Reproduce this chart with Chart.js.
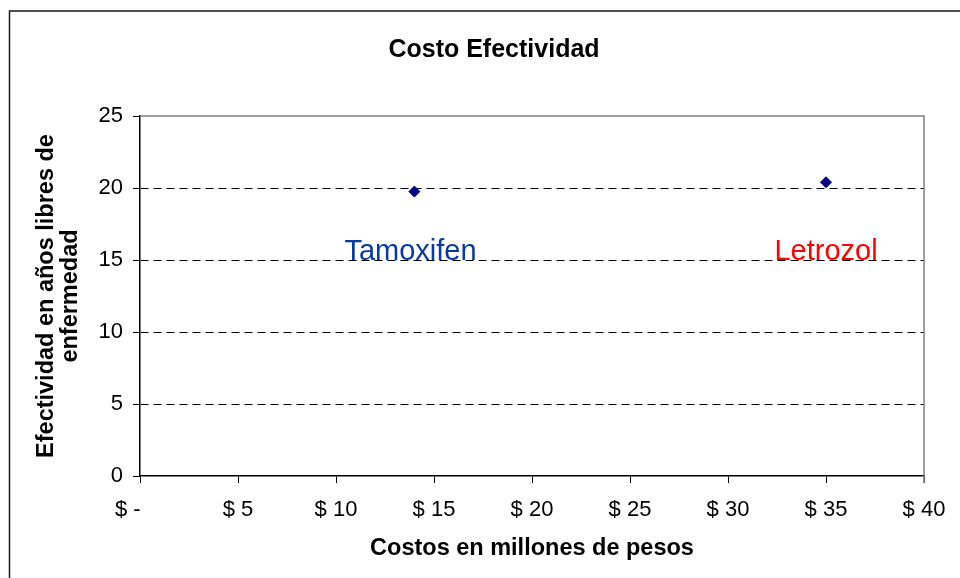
<!DOCTYPE html>
<html>
<head>
<meta charset="utf-8">
<title>Costo Efectividad</title>
<script src="https://cdn.jsdelivr.net/npm/chart.js@4"></script>
<style>
  html, body { margin: 0; padding: 0; background: #ffffff; }
  #wrap { width: 960px; height: 578px; position: relative; }
</style>
</head>
<body>
<div id="wrap"><canvas id="chart" width="960" height="578"></canvas></div>
<script>
// Treatments compared: cost (millions of pesos) vs disease-free years
const treatments = ['Tamoxifen', 'Letrozol'];
const costs = [14, 35];
const effectiveness = [19.75, 20.4];
const labelColors = ['#0a3a9c', '#ff0000'];
// anchor of each treatment name (cost, years at text baseline)
const labelCost = [13.8, 35];
const labelYears = [15, 15];

const xTicks = [0, 5, 10, 15, 20, 25, 30, 35, 40];
const yTicks = [0, 5, 10, 15, 20, 25];

const FONT = '"Liberation Sans", Arial, Helvetica, sans-serif';

function money(v) {
  return v === 0 ? '$ -    ' : '$ ' + v;
}

const decorations = {
  id: 'decorations',
  beforeDraw(chart) {
    const ctx = chart.ctx;
    ctx.save();
    ctx.fillStyle = '#ffffff';
    ctx.fillRect(0, 0, chart.width, chart.height);
    // outer frame
    ctx.strokeStyle = '#1a1a1a';
    ctx.lineWidth = 1.5;
    ctx.beginPath();
    ctx.moveTo(9.5, chart.height);
    ctx.lineTo(9.5, 11);
    ctx.lineTo(chart.width, 11);
    ctx.stroke();
    // title
    ctx.fillStyle = '#000000';
    ctx.font = 'bold 25px ' + FONT;
    ctx.textAlign = 'center';
    ctx.textBaseline = 'alphabetic';
    ctx.fillText('Costo Efectividad', 494, 56.5);
    ctx.restore();
  },
  afterDatasetsDraw(chart) {
    const ctx = chart.ctx;
    const a = chart.chartArea;
    const xs = chart.scales.x, ys = chart.scales.y;
    ctx.save();
    // plot area top and right edges
    ctx.strokeStyle = '#808080';
    ctx.lineWidth = 1.5;
    ctx.beginPath();
    ctx.moveTo(a.left, a.top);
    ctx.lineTo(a.right, a.top);
    ctx.lineTo(a.right, a.bottom + 7);
    ctx.stroke();
    // treatment names
    ctx.font = '29px ' + FONT;
    ctx.textAlign = 'center';
    ctx.textBaseline = 'alphabetic';
    treatments.forEach((name, i) => {
      ctx.fillStyle = labelColors[i];
      ctx.fillText(name, xs.getPixelForValue(labelCost[i]), ys.getPixelForValue(labelYears[i]));
    });
    ctx.restore();
  }
};

new Chart(document.getElementById('chart'), {
  type: 'scatter',
  data: {
    datasets: [{
      label: 'Costo Efectividad',
      data: costs.map((c, i) => ({ x: c, y: effectiveness[i] })),
      pointStyle: 'rectRot',
      pointRadius: 5.5,
      backgroundColor: '#000080',
      borderColor: '#000080',
      borderWidth: 1
    }]
  },
  options: {
    responsive: false,
    animation: false,
    layout: { padding: { left: 0, right: 36, top: 116, bottom: 0 } },
    plugins: {
      legend: { display: false },
      tooltip: { enabled: false },
      title: { display: false }
    },
    scales: {
      x: {
        type: 'linear',
        min: 0,
        max: 40,
        afterFit(scale) { scale.height = 102; },
        afterBuildTicks(scale) { scale.ticks = xTicks.map(v => ({ value: v })); },
        ticks: {
          autoSkip: false,
          maxRotation: 0,
          padding: 14,
          color: '#000000',
          font: { family: FONT, size: 22 },
          callback: v => money(v)
        },
        grid: {
          drawOnChartArea: false,
          drawTicks: true,
          tickLength: 7,
          tickColor: '#000000',
          tickWidth: 1
        },
        border: { display: true, color: '#000000', width: 1.5 },
        title: {
          display: true,
          text: 'Costos en millones de pesos',
          color: '#000000',
          font: { family: FONT, size: 23.5, weight: 'bold', lineHeight: '24px' },
          padding: { top: 0, bottom: 17 }
        }
      },
      y: {
        type: 'linear',
        min: 0,
        max: 25,
        afterFit(scale) { scale.width = 140; },
        afterBuildTicks(scale) { scale.ticks = yTicks.map(v => ({ value: v })); },
        ticks: {
          autoSkip: false,
          padding: 10,
          color: '#000000',
          font: { family: FONT, size: 22 },
          callback: v => String(v)
        },
        grid: {
          drawOnChartArea: true,
          drawTicks: true,
          tickLength: 7,
          tickColor: '#000000',
          tickWidth: 1,
          lineWidth: 1,
          color: ctx => (ctx.tick && (ctx.tick.value === 0 || ctx.tick.value === 25)) ? 'rgba(0,0,0,0)' : '#000000',
          borderDash: [8, 5]
        },
        border: { display: true, color: '#000000', width: 1.5, dash: [8, 5] },
        title: {
          display: true,
          text: ['Efectividad en años libres de', 'enfermedad'],
          color: '#000000',
          font: { family: FONT, size: 23.5, weight: 'bold', lineHeight: '24px' },
          padding: { top: 35, bottom: 0 }
        }
      }
    }
  },
  plugins: [decorations]
});
</script>
</body>
</html>
